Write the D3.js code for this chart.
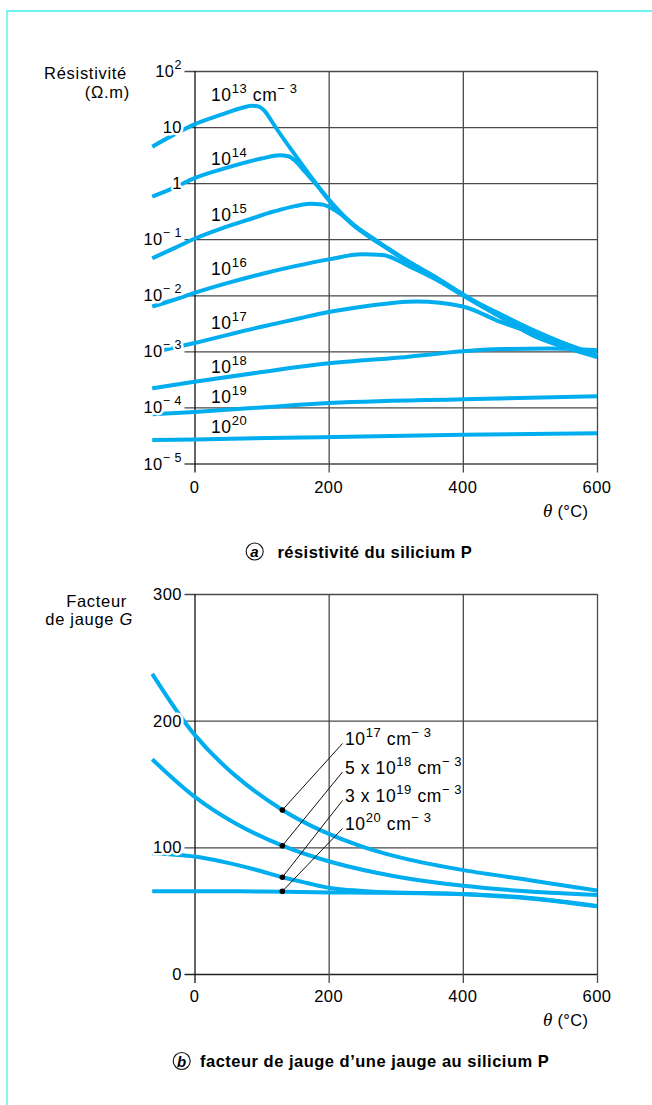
<!DOCTYPE html>
<html><head><meta charset="utf-8">
<script src="https://cdn.jsdelivr.net/npm/d3@7"></script>
<style>
body{margin:0;background:#fff;}
svg text{font-family:"Liberation Sans",Arial,Helvetica,sans-serif;fill:#000;}
</style></head><body>
<svg id="chart" width="652" height="1105"></svg>
<script>
// ---------------- DATA ----------------
// (a) resistivity of P-type silicon (ohm.m) vs temperature (°C), per doping level (cm-3)
const temps13 = [-63, -30, 0, 40, 70, 85, 95, 105, 117, 127, 152, 177, 200, 237, 267, 289, 321, 356, 400, 455, 505, 550, 600];
const rho13   = [4.47, 7.41, 11.2, 16.6, 21.9, 24.0, 23.4, 19.1, 11.7, 7.76, 2.95, 1.15, 0.501, 0.182, 0.100, 0.0676, 0.0380, 0.0219, 0.0100, 0.00417, 0.00191, 0.00120, 0.000794];
const temps14 = [-63, -30, 0, 50, 100, 127, 140, 150, 165, 187, 200, 237, 267, 289, 321, 356, 400, 455, 505, 550, 600];
const rho14   = [0.575, 0.832, 1.23, 1.91, 2.75, 3.16, 3.02, 2.51, 1.58, 0.794, 0.513, 0.178, 0.0977, 0.0661, 0.0372, 0.0214, 0.0102, 0.00427, 0.00195, 0.00123, 0.000813];
const temps15 = [-63, -30, 0, 40, 78, 120, 150, 172, 190, 205, 220, 237, 267, 289, 321, 356, 400, 455, 505, 550, 600];
const rho15   = [0.0457, 0.0692, 0.102, 0.155, 0.219, 0.316, 0.389, 0.427, 0.417, 0.355, 0.269, 0.178, 0.102, 0.0676, 0.0389, 0.0224, 0.0105, 0.00437, 0.00200, 0.00126, 0.000832];
const temps16 = [-63, -30, 0, 50, 100, 150, 200, 250, 280, 321, 360, 400, 455, 505, 550, 600];
const rho16   = [0.00631, 0.00832, 0.0110, 0.0166, 0.0240, 0.0331, 0.0437, 0.0537, 0.0525, 0.0324, 0.0191, 0.0100, 0.00468, 0.00240, 0.00141, 0.000851];
const temps17 = [-63, 0, 100, 157, 187, 252, 331, 400, 455, 530, 600];
const rho17   = [0.000955, 0.00141, 0.00275, 0.00389, 0.00468, 0.00631, 0.00776, 0.00631, 0.00339, 0.00170, 0.000851];
const temps18 = [-63, 0, 100, 187, 306, 400, 455, 530, 600];
const rho18   = [0.000219, 0.000288, 0.000427, 0.000589, 0.000776, 0.00100, 0.00110, 0.00112, 0.00105];
const temps19 = [-63, 0, 100, 187, 400, 600];
const rho19   = [7.59e-5, 8.32e-5, 1.00e-4, 1.17e-4, 1.40e-4, 1.58e-4];
const temps20 = [-63, 0, 187, 400, 600];
const rho20   = [2.63e-5, 2.69e-5, 2.95e-5, 3.24e-5, 3.47e-5];
const dopingExpA = ["13", "14", "15", "16", "17", "18", "19", "20"];

// (b) gauge factor G vs temperature (°C)
const tempsG17   = [-63, 0, 60, 131, 190, 252, 320, 401, 500, 600];
const gauge17    = [237, 189, 157, 129.5, 113, 100.2, 90.3, 82, 74, 66];
const tempsG5e18 = [-63, 0, 60, 131, 205, 300, 401, 500, 600];
const gauge5e18  = [169.5, 140, 119.2, 101.3, 88.2, 77, 69.6, 65.1, 62.4];
const tempsG3e19 = [-63, 0, 43, 90, 131, 168, 202, 267, 401, 500, 600];
const gauge3e19  = [95.3, 92.7, 88.5, 82.5, 76.4, 71.8, 67.9, 65, 63.2, 60, 53.7];
const tempsG1e20 = [-63, 0, 100, 202, 267, 401, 500, 600];
const gauge1e20  = [65.3, 65.3, 65.2, 64.4, 64.2, 62.9, 59.6, 53.4];
const markerTemp = 131;
const markerGauge = [129.5, 101.3, 76.4, 65.3];

// ticks
const tempTicks = [0, 200, 400, 600];
const rhoTicks = [1e2, 1e1, 1, 1e-1, 1e-2, 1e-3, 1e-4, 1e-5];
const rhoTickBase = ["10", "10", "1", "10", "10", "10", "10", "10"];
const rhoTickExp  = ["2", "", "", "− 1", "− 2", "− 3", "− 4", "− 5"];
const gaugeTicks = [0, 100, 200, 300];

// ---------------- DRAW ----------------
const svg = d3.select("#chart");
const CURVE = "#00aeef", GRID = "#4a4a4a";

// frame
svg.append("line").attr("x1", 6).attr("x2", 652).attr("y1", 11).attr("y2", 11).attr("stroke", "#6cf2f2").attr("stroke-width", 2);
svg.append("line").attr("x1", 7).attr("x2", 7).attr("y1", 10).attr("y2", 1105).attr("stroke", "#6cf2f2").attr("stroke-width", 1.6);

function rich(g, x, y, parts, o) {
  const t = g.append("text").attr("x", x).attr("y", y)
    .attr("font-size", o.size).attr("text-anchor", o.anchor || "start")
    .style("letter-spacing", (o.ls || 0) + "px");
  if (o.bold) t.attr("font-weight", "bold");
  if (o.halo) t.attr("stroke", "#fff").attr("stroke-width", 5).attr("paint-order", "stroke").attr("stroke-linejoin", "round");
  let up = false;
  parts.forEach(p => {
    if (p.t === "") return;
    const ts = t.append("tspan").text(p.t);
    if (p.sup) { ts.attr("font-size", o.supSize); if (!up) { ts.attr("dy", -o.raise); up = true; } }
    else if (up) { ts.attr("dy", o.raise); up = false; }
    if (p.italic) ts.attr("font-style", "italic");
    if (p.serif) ts.style("font-family", "'Liberation Serif','Times New Roman',serif");
    if (p.size) ts.attr("font-size", p.size);
  });
  return t;
}

const x = d3.scaleLinear().domain([0, 600]).range([194.5, 597]);
const W = x(600) - x(0);

// ===== Chart (a) =====
const yA = d3.scaleLog().domain([1e-5, 1e2]).range([463.5, 71]);
const gA = svg.append("g");

const gy = gA.append("g").attr("transform", `translate(${x(0)},0)`)
  .call(d3.axisLeft(yA).tickValues(rhoTicks).tickSize(-W).tickFormat(""));
gy.select(".domain").remove();
gy.selectAll(".tick line").attr("x1", -10).attr("stroke", GRID).attr("stroke-width", 1.3);
const gx = gA.append("g").attr("transform", `translate(0,${yA(1e2)})`)
  .call(d3.axisBottom(x).tickValues(tempTicks).tickSize(yA(1e-5) - yA(1e2) + 9).tickFormat(""));
gx.select(".domain").remove();
gx.selectAll(".tick line").attr("stroke", GRID).attr("stroke-width", 1.3);
gx.selectAll(".tick").filter(d => d === 0).select("line").attr("stroke", "#111");

const lineA = d3.line().x(d => x(d[0])).y(d => yA(d[1])).curve(d3.curveMonotoneX);
const seriesA = [[temps13, rho13], [temps14, rho14], [temps15, rho15], [temps16, rho16], [temps17, rho17], [temps18, rho18], [temps19, rho19], [temps20, rho20]];
gA.selectAll("path.curveA").data(seriesA).join("path").attr("class", "curveA")
  .attr("d", s => lineA(d3.zip(s[0], s[1]))).attr("fill", "none").attr("stroke", CURVE).attr("stroke-width", 4)
  .attr("stroke-linecap", "butt").attr("stroke-linejoin", "round");

rhoTicks.forEach((v, i) => {
  rich(gA, 182, yA(v) + 6, [{ t: rhoTickBase[i] }, { t: rhoTickExp[i], sup: true }],
    { size: 16.5, supSize: 12.5, raise: 8, anchor: "end", ls: 0.5, halo: true });
});
tempTicks.forEach(v => {
  gA.append("text").attr("x", x(v)).attr("y", 493).attr("text-anchor", "middle").attr("font-size", 16.5).style("letter-spacing", "0.5px").text(v);
});
gA.append("text").attr("x", 127).attr("y", 79).attr("text-anchor", "end").attr("font-size", 16.5).style("letter-spacing", "0.7px").text("Résistivité");
gA.append("text").attr("x", 130).attr("y", 98).attr("text-anchor", "end").attr("font-size", 16.5).style("letter-spacing", "0.7px").text("(Ω.m)");
rich(gA, 543, 517, [{ t: "θ", italic: true, serif: true, size: 19 }, { t: " (°C)" }], { size: 16.5, ls: 0.3 });

const labelYA = [100.5, 165, 220.5, 275, 329, 373, 403, 433];
dopingExpA.forEach((e, i) => {
  const parts = [{ t: "10" }, { t: e, sup: true }];
  if (i === 0) parts.push({ t: " cm" }, { t: "− 3", sup: true });
  rich(gA, 211, labelYA[i], parts, { size: 17.5, supSize: 13, raise: 8, ls: 0.6 });
});

gA.append("circle").attr("cx", 254.7).attr("cy", 551.5).attr("r", 8.5).attr("fill", "none").attr("stroke", "#111").attr("stroke-width", 1.1);
gA.append("text").attr("x", 254.5).attr("y", 557).attr("text-anchor", "middle").attr("font-size", 15).attr("font-weight", "bold").attr("font-style", "italic").text("a");
gA.append("text").attr("x", 277.5).attr("y", 558).attr("font-size", 16.5).attr("font-weight", "bold").style("letter-spacing", "0.45px").text("résistivité du silicium P");

// ===== Chart (b) =====
const yB = d3.scaleLinear().domain([0, 300]).range([974, 594]);
const gB = svg.append("g");
const gyB = gB.append("g").attr("transform", `translate(${x(0)},0)`)
  .call(d3.axisLeft(yB).tickValues(gaugeTicks).tickSize(-W).tickFormat(""));
gyB.select(".domain").remove();
gyB.selectAll(".tick line").attr("x1", -10).attr("stroke", GRID).attr("stroke-width", 1.3);
gyB.selectAll(".tick").filter(d => d === 0).select("line").attr("stroke", "#222");
const gxB = gB.append("g").attr("transform", `translate(0,${yB(300)})`)
  .call(d3.axisBottom(x).tickValues(tempTicks).tickSize(yB(0) - yB(300) + 9).tickFormat(""));
gxB.select(".domain").remove();
gxB.selectAll(".tick line").attr("stroke", GRID).attr("stroke-width", 1.3);
gxB.selectAll(".tick").filter(d => d === 0).select("line").attr("stroke", "#111");

const lineB = d3.line().x(d => x(d[0])).y(d => yB(d[1])).curve(d3.curveCatmullRom.alpha(0.5));
const seriesB = [[tempsG17, gauge17], [tempsG5e18, gauge5e18], [tempsG3e19, gauge3e19], [tempsG1e20, gauge1e20]];
gB.selectAll("path.curveB").data(seriesB).join("path").attr("class", "curveB")
  .attr("d", s => lineB(d3.zip(s[0], s[1]))).attr("fill", "none").attr("stroke", CURVE).attr("stroke-width", 4);

gaugeTicks.forEach(v => {
  rich(gB, 182, yB(v) + 6, [{ t: String(v) }], { size: 16.5, anchor: "end", ls: 0.5, halo: true });
});
tempTicks.forEach(v => {
  gB.append("text").attr("x", x(v)).attr("y", 1001.5).attr("text-anchor", "middle").attr("font-size", 16.5).style("letter-spacing", "0.5px").text(v);
});
gB.append("text").attr("x", 127).attr("y", 606.5).attr("text-anchor", "end").attr("font-size", 16.5).style("letter-spacing", "0.7px").text("Facteur");
rich(gB, 133, 625, [{ t: "de jauge " }, { t: "G", italic: true }], { size: 16.5, anchor: "end", ls: 0.7 });
rich(gB, 543, 1026, [{ t: "θ", italic: true, serif: true, size: 19 }, { t: " (°C)" }], { size: 16.5, ls: 0.3 });

const labelYB = [745, 773.5, 802, 830];
const labelPartsB = [
  [{ t: "10" }, { t: "17", sup: true }, { t: " cm" }, { t: "− 3", sup: true }],
  [{ t: "5 x 10" }, { t: "18", sup: true }, { t: " cm" }, { t: "− 3", sup: true }],
  [{ t: "3 x 10" }, { t: "19", sup: true }, { t: " cm" }, { t: "− 3", sup: true }],
  [{ t: "10" }, { t: "20", sup: true }, { t: " cm" }, { t: "− 3", sup: true }]
];
markerGauge.forEach((gv, i) => {
  gB.append("line").attr("x1", x(markerTemp)).attr("y1", yB(gv)).attr("x2", 342.5).attr("y2", labelYB[i] - 1.5)
    .attr("stroke", "#111").attr("stroke-width", 1);
  gB.append("circle").attr("cx", x(markerTemp)).attr("cy", yB(gv)).attr("r", 2.8).attr("fill", "#000");
  rich(gB, 345, labelYB[i], labelPartsB[i], { size: 17.5, supSize: 13, raise: 8, ls: 0.6 });
});

gB.append("circle").attr("cx", 181.7).attr("cy", 1061).attr("r", 8.5).attr("fill", "none").attr("stroke", "#111").attr("stroke-width", 1.1);
gB.append("text").attr("x", 181.7).attr("y", 1066.5).attr("text-anchor", "middle").attr("font-size", 15).attr("font-weight", "bold").attr("font-style", "italic").text("b");
gB.append("text").attr("x", 200).attr("y", 1067).attr("font-size", 16.5).attr("font-weight", "bold").style("letter-spacing", "0.5px").text("facteur de jauge d’une jauge au silicium P");
</script>
</body></html>
